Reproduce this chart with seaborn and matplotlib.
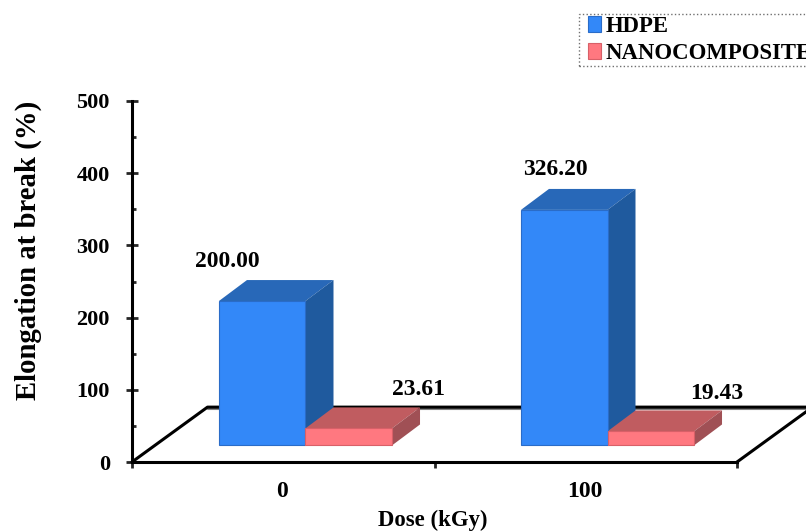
#! /usr/bin/env python3
# imports
import matplotlib
matplotlib.use('Agg')
import matplotlib.pyplot as plt
from matplotlib.patches import Polygon
from matplotlib.ticker import MultipleLocator
import pandas as pd
import seaborn as sns

# data
doses = ['0', '100']
hdpe = [200.00, 326.20]
nano = [23.61, 19.43]
series_names = ['HDPE', 'NANOCOMPOSITE']
value_labels = ['200.00', '326.20', '23.61', '19.43']

# settings
sns.set_style("white")
plt.rcParams['font.family'] = ['Liberation Serif', 'DejaVu Serif']
plt.rcParams['font.weight'] = 'bold'
plt.rcParams['text.color'] = 'black'
plt.rcParams['axes.labelcolor'] = 'black'
plt.rcParams['xtick.labelcolor'] = 'black'
plt.rcParams['ytick.labelcolor'] = 'black'
W, H = 806, 531
pal = {'HDPE': '#3388F8', 'NANOCOMPOSITE': '#FF7880'}
edge = {'HDPE': '#2A6CC8', 'NANOCOMPOSITE': '#D86068'}
top_col = {'HDPE': '#2868B8', 'NANOCOMPOSITE': '#C05C60'}
side_col = {'HDPE': '#1F5A9E', 'NANOCOMPOSITE': '#A05055'}
lift = 23       # bars stand on the floor, above the axis line
bar_dx, bar_dy = 0.0927, 29
floor_dx, floor_dy = 0.250, 76
# label offsets in points from the bar's top centre
label_off = [(-25, 28.1), (-6.5, 29.3), (50.5, 28.1), (47.3, 27.5)]

df = pd.DataFrame({
    'dose': doses * 2,
    'value': hdpe + nano,
    'series': [series_names[0]] * 2 + [series_names[1]] * 2,
})

# create plot
fig = plt.figure(figsize=(W / 100, H / 100), dpi=100)
ax = fig.add_axes([132 / W, (H - 462) / H, 605 / W, 361 / H])
sns.barplot(data=df, x='dose', y='value', hue='series', palette=pal, width=0.573,
            gap=0, saturation=1, linewidth=0.8, zorder=4, ax=ax)
x0, x1 = -0.5745, 1.4288
ax.set_xlim(x0, x1)
ax.set_ylim(0, 500)

# floor
ax.plot([x0 + floor_dx, x1 + floor_dx], [floor_dy - 2.5, floor_dy - 2.5], color='#808080', lw=1.5,
        clip_on=False, zorder=1)
ax.plot([x0, x0 + floor_dx, x1 + floor_dx], [0, floor_dy, floor_dy], color='black', lw=2.2,
        clip_on=False, zorder=2)
ax.plot([x1, x1 + floor_dx], [0, floor_dy], color='black', lw=2.2, clip_on=False, zorder=2)

# depth faces, taken from the bars seaborn drew
for name, cont in zip(series_names, ax.containers):
    for bar in cont:
        bar.set_y(lift)
        bar.set_edgecolor(edge[name])
        l, r = bar.get_x(), bar.get_x() + bar.get_width()
        b, t = bar.get_y(), bar.get_y() + bar.get_height()
        ax.add_patch(Polygon([(l, t), (r, t), (r + bar_dx, t + bar_dy), (l + bar_dx, t + bar_dy)],
                             fc=top_col[name], ec='none', zorder=3, clip_on=False))
        ax.add_patch(Polygon([(r, b), (r, t), (r + bar_dx, t + bar_dy), (r + bar_dx, b + bar_dy)],
                             fc=side_col[name], ec='none', zorder=3, clip_on=False))

# value labels
all_bars = [bar for cont in ax.containers for bar in cont]
for bar, txt, off in zip(all_bars, value_labels, label_off):
    ax.annotate(txt, (bar.get_x() + bar.get_width() / 2, bar.get_y() + bar.get_height()),
                xytext=off, textcoords='offset points', ha='center', va='center',
                fontsize=17, fontweight='bold', zorder=6, annotation_clip=False)

# axes
sns.despine(ax=ax)
for side in ['left', 'bottom']:
    ax.spines[side].set_linewidth(2.2)
    ax.spines[side].set_color('black')
ax.yaxis.set_major_locator(MultipleLocator(100))
ax.yaxis.set_minor_locator(MultipleLocator(50))
ax.tick_params(axis='y', which='major', left=True, direction='inout', length=9, width=2,
               labelsize=16, pad=11.5)
ax.tick_params(axis='y', which='minor', left=True, direction='in', length=3, width=2)
ax.set_xticks([x0, (x0 + x1) / 2, x1], labels=[])
mid_shift = 0.0033
ax.set_xticks([x0 + (x1 - x0) / 4 - mid_shift, x0 + 3 * (x1 - x0) / 4 - mid_shift], labels=doses, minor=True)
ax.tick_params(axis='x', which='major', bottom=True, direction='out', length=4, width=2)
ax.tick_params(axis='x', which='minor', bottom=False, length=0, labelsize=17, pad=13.7)
ax.set_xlabel('Dose (kGy)', fontsize=16.4, fontweight='bold')
ax.set_ylabel('Elongation at break (%)', fontsize=20.7, fontweight='bold')
ax.xaxis.set_label_coords((433 - 132) / 605, (462 - 510) / 361)
ax.yaxis.set_label_coords((42 - 132) / 605, (462 - 250) / 361)

# legend runs off the right edge like the original
sns.move_legend(ax, 'upper left', bbox_to_anchor=(579 / W, (H - 14) / H),
                bbox_transform=fig.transFigure, title=None, frameon=True, fontsize=16.4,
                borderaxespad=0, borderpad=0.07, handlelength=1.0, handleheight=0.7,
                handletextpad=0.1, labelspacing=0.3, fancybox=False, edgecolor='#707070',
                framealpha=1)
leg = ax.get_legend()
leg.get_frame().set_linestyle(':')
leg.get_frame().set_linewidth(1)
leg.set_zorder(10)
for handle, name in zip(leg.get_patches(), series_names):
    handle.set_x(5)
    handle.set_width(9.4)
    handle.set_edgecolor(edge[name])

fig.savefig('out.png', dpi=100)
plt.close()
